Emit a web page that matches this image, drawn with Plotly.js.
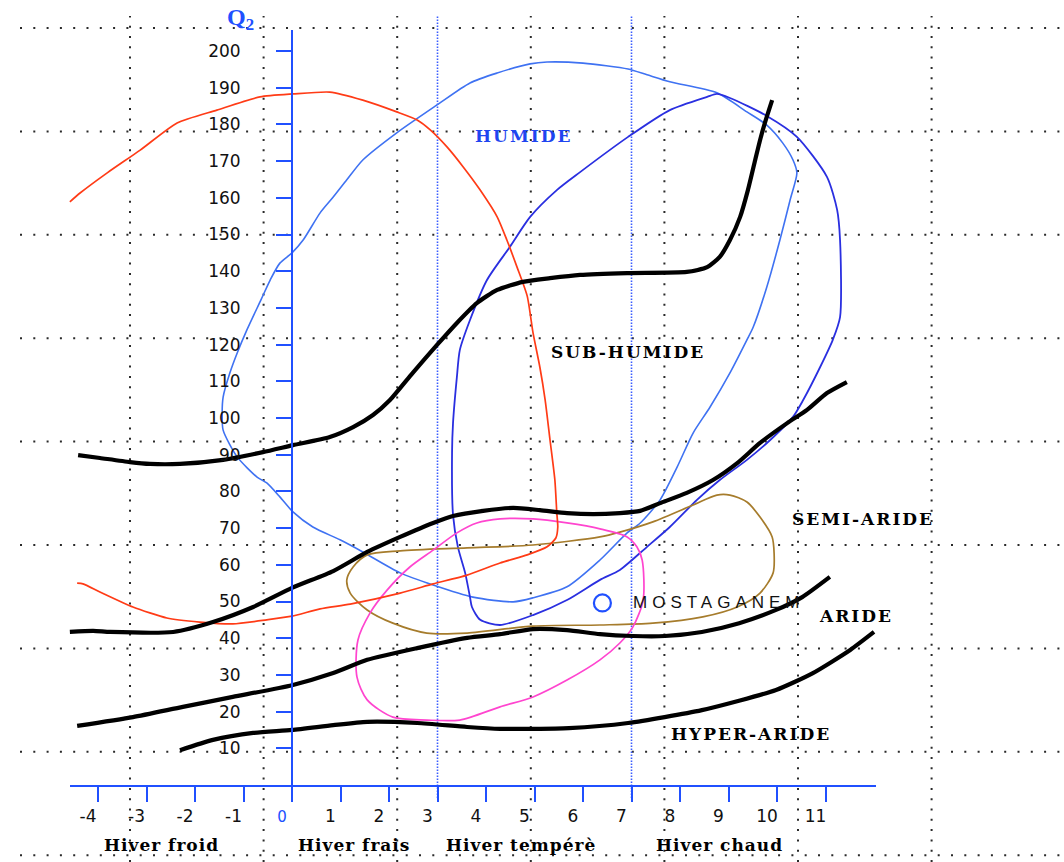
<!DOCTYPE html>
<html>
<head>
<meta charset="utf-8">
<script src="https://cdn.plot.ly/plotly-3.0.1.min.js"></script>
<style>
  html, body { margin: 0; padding: 0; background: #fff; }
  #chart { width: 1064px; height: 862px; }
</style>
</head>
<body>
<div id="chart"></div>
<script>
// Emberger climagram: pluviothermic quotient Q2 against m (°C),
// bioclimatic zone limits, station trajectories and the Mostaganem station.

// ---- zone limits (m, Q2) ----
const limitHumideM = [-4.41,-3.96,-3.34,-2.93,-2.31,-1.42,-0.60,0.02,0.78,1.26,1.67,2.02,2.49,2.99,3.40,3.81,4.23,4.76,5.32,5.94,6.91,8.14,8.56,8.82,9.03,9.24,9.40,9.55,9.65,9.75,9.90];
const limitHumideQ = [89.9,89.1,88.0,87.5,87.5,88.6,90.7,92.6,94.8,97.5,100.8,104.9,112.3,119.9,125.9,131.3,134.9,137.1,138.1,139.0,139.5,139.8,141.1,143.9,148.5,154.8,162.1,170.3,175.7,180.4,186.6];

const limitSubHumideM = [-4.58,-4.10,-3.75,-2.45,-1.63,-0.80,0.00,0.85,1.55,2.23,2.91,3.32,3.94,4.56,5.11,5.67,6.21,6.76,7.18,7.59,8.14,8.68,9.18,9.65,10.21,10.62,11.03,11.44];
const limitSubHumideQ = [41.7,42.0,41.7,41.7,44.4,48.5,53.7,58.3,63.5,67.6,71.4,73.3,74.7,75.5,74.9,74.1,73.8,74.1,74.7,76.8,79.6,83.1,87.7,93.2,98.6,102.2,106.8,109.8];

const limitSemiArideM = [-4.43,-3.28,-2.25,-1.22,0.00,0.85,1.55,2.58,3.61,4.29,4.97,5.67,6.35,7.03,7.69,8.45,9.22,9.98,10.52,11.09];
const limitSemiArideQ = [16.1,18.5,21.3,24.0,27.2,30.5,34.1,37.3,40.1,41.1,42.5,42.2,41.1,40.6,40.6,41.7,44.1,47.7,51.2,56.7];

const limitArideM = [-2.31,-1.63,-0.80,0.00,0.85,1.55,2.58,3.61,4.29,5.71,6.93,8.45,9.98,10.74,11.51,12.00];
const limitArideQ = [9.5,12.3,14.2,15.0,16.3,17.2,16.9,15.8,15.3,15.5,16.9,20.4,25.9,30.5,36.8,41.7];

// ---- trajectories (m, Q2) ----
const redM = [-4.58,-4.37,-3.81,-3.13,-2.37,-1.55,-0.66,0.02,0.78,1.46,2.16,2.58,2.85,3.20,3.53,3.88,4.23,4.43,4.64,4.85,4.97,5.11,5.22,5.32,5.42,5.46,5.48,5.44,5.26,4.85,4.29,3.61,2.91,2.23,1.20,0.58,0.00,-0.52,-1.22,-1.90,-2.58,-3.28,-3.96,-4.31,-4.43];
const redQ = [158.9,161.3,166.8,173.0,180.4,183.9,187.5,188.3,188.8,186.6,183.4,181.2,178.5,173.8,168.4,162.1,154.8,148.5,141.1,133.2,123.2,113.9,104.9,94.0,83.1,74.1,70.3,67.3,64.9,62.7,60.5,57.2,54.8,52.3,49.3,48.0,46.0,45.0,43.9,44.4,45.5,48.5,52.6,54.8,55.0];

const lightBlueM = [6.93,6.00,5.26,4.91,4.23,3.67,2.99,2.16,1.46,1.13,0.85,0.58,0.23,0.00,-0.25,-0.45,-0.64,-0.93,-1.13,-1.28,-1.42,-1.44,-1.42,-1.13,-0.72,-0.52,-0.25,0.02,0.43,0.99,1.46,2.23,2.91,3.73,4.56,4.97,5.67,6.35,6.91,7.18,7.59,7.94,8.27,8.62,9.03,9.38,9.51,9.79,10.06,10.27,10.41,10.33,10.12,9.79,9.38,8.76,7.79,7.32,6.93];
const lightBlueQ = [195.1,196.7,197.0,196.5,194.0,191.3,185.3,177.7,170.3,164.9,160.2,155.9,148.5,145.0,142.2,137.6,132.2,124.0,117.7,112.3,105.7,101.4,96.7,89.4,83.9,82.3,78.5,74.4,70.3,66.8,63.5,57.8,54.5,51.2,49.9,51.0,54.0,61.3,68.7,71.4,77.7,86.6,95.9,103.0,112.3,121.3,124.8,135.7,148.5,159.4,166.8,170.3,174.9,179.8,183.4,188.6,191.6,193.5,195.1];

const darkBlueM = [4.29,3.88,3.71,3.67,3.57,3.42,3.32,3.30,3.32,3.40,3.46,3.67,4.02,4.49,4.91,5.46,5.94,6.93,7.79,8.56,8.76,9.03,9.79,10.41,11.03,11.24,11.30,11.30,11.15,10.89,10.54,10.33,9.86,9.38,8.82,8.35,7.79,7.32,6.76,6.35,5.67,4.97,4.29];
const darkBlueQ = [43.6,45.0,48.5,51.2,57.8,64.9,73.6,90.5,98.6,111.2,118.5,126.7,137.6,146.6,154.8,162.1,167.0,176.6,183.9,187.5,188.3,187.2,182.3,176.6,165.7,156.7,148.5,127.5,121.3,113.9,104.9,100.3,94.0,88.6,83.1,77.7,70.3,64.9,58.6,55.9,50.4,46.3,43.6];

const brownM = [1.13,1.26,1.55,2.23,3.61,4.97,6.35,6.76,7.44,8.27,8.76,9.03,9.38,9.65,9.90,9.94,9.92,9.65,9.18,8.47,7.44,6.35,4.97,3.61,2.78,2.08,1.55,1.20,1.13];
const brownQ = [55.9,59.4,62.7,63.8,64.6,65.4,67.6,68.9,71.7,76.3,79.0,79.0,77.1,73.0,67.6,63.2,57.8,52.3,48.5,45.8,44.1,43.6,43.3,41.4,41.4,44.1,47.7,52.3,55.9];

const pinkM = [4.29,4.97,5.67,6.35,6.91,7.11,7.22,7.24,7.03,6.76,6.35,5.67,4.97,4.29,3.46,2.78,2.08,1.55,1.34,1.36,1.61,1.96,2.43,2.91,3.40,3.81,4.29];
const pinkQ = [72.5,72.5,71.4,69.8,67.6,64.9,61.3,50.4,43.1,38.7,34.1,28.6,24.0,21.3,17.7,17.7,18.5,23.2,29.4,39.5,46.9,53.1,59.4,64.0,68.7,71.4,72.5];

// ---- station ----
const stationName = ['MOSTAGANEM'];
const stationM = [6.4];
const stationQ = [49.6];

// ---- axes and labels ----
const mTicks = [-4,-3,-2,-1,0,1,2,3,4,5,6,7,8,9,10,11];
const qTicks = [10,20,30,40,50,60,70,80,90,100,110,120,130,140,150,160,170,180,190,200];
const winterLimits = [3, 7];
const winterNames = ['Hiver froid', 'Hiver frais', 'Hiver tempérè', 'Hiver chaud'];
const winterCentres = [-2.70, 1.28, 4.72, 8.82];
const zoneNames = ['HUMIDE', 'SUB-HUMIDE', 'SEMI-ARIDE', 'ARIDE', 'HYPER-ARIDE'];
const zoneLabelM = [3.73, 5.30, 10.27, 10.82, 7.77];
const zoneLabelQ = [176.8, 118.0, 72.5, 46.0, 13.9];

// ---- page geometry ----
const W = 1064, H = 862;
const ORIGIN_X = 292, ORIGIN_Y = 785;   // pixel position of m = 0, Q2 = 0
const PX_PER_M = 48.5, PX_PER_Q = 3.67;
const AXIS_BLUE = '#2050ff';

const colors = {
  limit: '#000000',
  red: '#ff3b16',
  lightBlue: '#3f72f2',
  darkBlue: '#2a2fe0',
  brown: '#a67c2c',
  pink: '#ff45cf'
};

function curve(xs, ys, color, width, smooth) {
  return {
    x: xs, y: ys, type: 'scatter', mode: 'lines',
    line: { color: color, width: width, shape: 'spline', smoothing: smooth },
    hoverinfo: 'skip', showlegend: false
  };
}

const traces = [
  curve(lightBlueM, lightBlueQ, colors.lightBlue, 1.6, 0.7),
  curve(darkBlueM, darkBlueQ, colors.darkBlue, 1.8, 0.7),
  curve(brownM, brownQ, colors.brown, 1.7, 0.8),
  curve(pinkM, pinkQ, colors.pink, 1.7, 0.8),
  curve(redM, redQ, colors.red, 1.7, 0.6),
  curve(limitHumideM, limitHumideQ, colors.limit, 4.2, 0.6),
  curve(limitSubHumideM, limitSubHumideQ, colors.limit, 4.2, 0.6),
  curve(limitSemiArideM, limitSemiArideQ, colors.limit, 4.2, 0.6),
  curve(limitArideM, limitArideQ, colors.limit, 4.2, 0.6),
  {
    x: stationM, y: stationQ, type: 'scatter', mode: 'markers',
    marker: { symbol: 'circle-open', size: 17, color: AXIS_BLUE, line: { width: 2.2, color: AXIS_BLUE } },
    hoverinfo: 'skip', showlegend: false
  },
  // carrier for the drawn blue axes
  { x: [], y: [], type: 'scatter', mode: 'lines', xaxis: 'x2', yaxis: 'y2', hoverinfo: 'skip', showlegend: false }
];

// dotted background grid
const shapes = [];
for (let i = 0; i < 9; i++) {
  const py = 28 + 103.4 * i;
  shapes.push({
    type: 'line', xref: 'paper', yref: 'paper', layer: 'below',
    x0: 20 / W, x1: 1, y0: 1 - py / H, y1: 1 - py / H,
    line: { color: '#2a2a2a', width: 2, dash: '2px,11.3px' }
  });
}
for (let j = 0; j < 7; j++) {
  const px = 130 + 133.6 * j;
  shapes.push({
    type: 'line', xref: 'paper', yref: 'paper', layer: 'below',
    x0: px / W, x1: px / W, y0: 0, y1: 1 - 16 / H,
    line: { color: '#2a2a2a', width: 2, dash: '2px,8.3px' }
  });
}
// winter-type limits
winterLimits.forEach(m => shapes.push({
  type: 'line', xref: 'x', yref: 'paper', layer: 'below',
  x0: m, x1: m, y0: 1 - 798 / H, y1: 1 - 15 / H,
  line: { color: '#3a5cff', width: 1.6, dash: '1.5px,1.5px' }
}));

const serif = 'DejaVu Serif';
const annotations = [];
zoneNames.forEach((name, i) => annotations.push({
  x: zoneLabelM[i], y: zoneLabelQ[i], xref: 'x', yref: 'y',
  xanchor: 'left', yanchor: 'middle', showarrow: false,
  text: '<span style="letter-spacing:2px"><b>' + name + '</b></span>',
  font: { family: serif, size: 17, color: i === 0 ? '#1f45f0' : '#000' }
}));
winterNames.forEach((name, i) => annotations.push({
  x: winterCentres[i], y: -16.3, xref: 'x', yref: 'y',
  xanchor: 'center', yanchor: 'middle', showarrow: false,
  text: '<span style="letter-spacing:1px"><b>' + name + '</b></span>',
  font: { family: serif, size: 17, color: '#000' }
}));
annotations.push({
  x: stationM[0], y: stationQ[0], xref: 'x', yref: 'y',
  xanchor: 'left', yanchor: 'middle', xshift: 29, showarrow: false,
  text: '<span style="letter-spacing:5px">' + stationName[0] + '</span>',
  font: { family: 'Liberation Sans', size: 17, color: '#111' }
});
annotations.push({
  x: 240 / W, y: 1 - 19 / H, xref: 'paper', yref: 'paper',
  xanchor: 'center', yanchor: 'middle', showarrow: false,
  text: '<b>Q<sub>2</sub></b>',
  font: { family: 'Liberation Serif', size: 24, color: AXIS_BLUE }
});

const layout = {
  width: W, height: H,
  margin: { l: 0, r: 0, t: 0, b: 0, pad: 0 },
  paper_bgcolor: '#ffffff', plot_bgcolor: 'rgba(0,0,0,0)',
  showlegend: false,
  xaxis: { domain: [0, 1], range: [-ORIGIN_X / PX_PER_M, (W - ORIGIN_X) / PX_PER_M], visible: false, fixedrange: true },
  yaxis: { domain: [0, 1], range: [(ORIGIN_Y - H) / PX_PER_Q, ORIGIN_Y / PX_PER_Q], visible: false, fixedrange: true },
  xaxis2: {
    domain: [70 / W, 876 / W], range: [(70 - ORIGIN_X) / PX_PER_M, (876 - ORIGIN_X) / PX_PER_M],
    anchor: 'y2', side: 'bottom', automargin: false, fixedrange: true,
    showline: true, linecolor: AXIS_BLUE, linewidth: 2,
    showgrid: false, zeroline: false,
    ticks: 'outside', ticklen: 15, tickwidth: 2, tickcolor: AXIS_BLUE,
    tickmode: 'array', tickvals: mTicks,
    ticktext: mTicks.map(v => v === 0 ? '<span style="color:' + AXIS_BLUE + ';font-size:15px">0</span>' : String(v)),
    tickfont: { family: 'DejaVu Sans', size: 17, color: '#111' },
    ticklabelstandoff: 0, ticklabelshift: -10
  },
  yaxis2: {
    domain: [(H - ORIGIN_Y) / H, (H - 30) / H], range: [0, (ORIGIN_Y - 30) / PX_PER_Q],
    anchor: 'free', position: ORIGIN_X / W, side: 'left', automargin: false, fixedrange: true,
    showline: true, linecolor: AXIS_BLUE, linewidth: 2,
    showgrid: false, zeroline: false,
    ticks: 'outside', ticklen: 15, tickwidth: 2, tickcolor: AXIS_BLUE,
    tickmode: 'array', tickvals: qTicks,
    tickfont: { family: 'DejaVu Sans', size: 17, color: '#111' },
    ticklabelstandoff: 32
  },
  shapes: shapes,
  annotations: annotations
};

Plotly.newPlot('chart', traces, layout, { staticPlot: true, displayModeBar: false });
</script>
</body>
</html>
